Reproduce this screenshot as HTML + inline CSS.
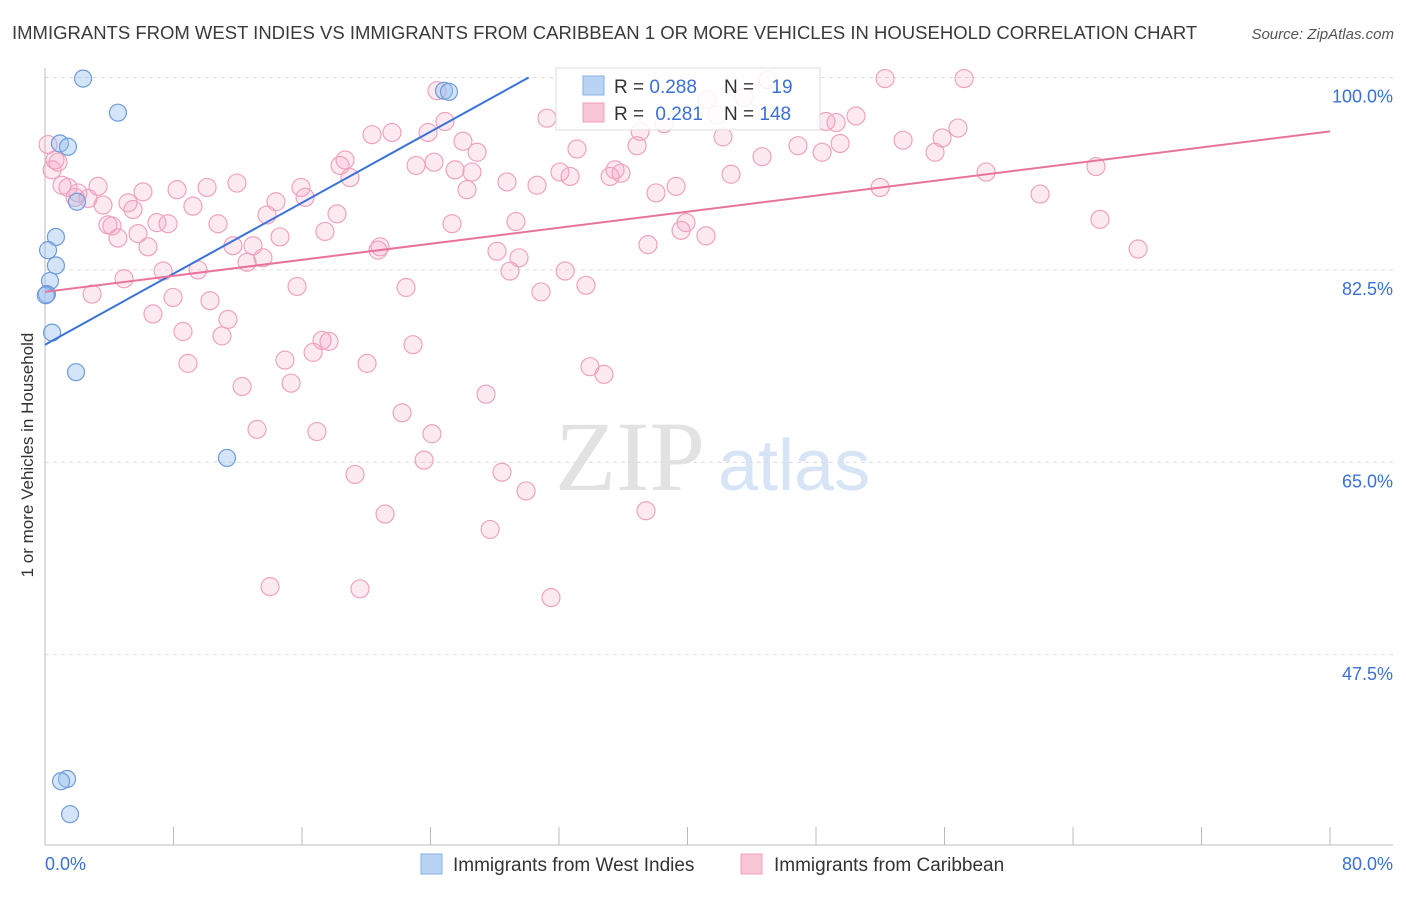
<!DOCTYPE html>
<html><head><meta charset="utf-8"><style>
body{margin:0;background:#fff;font-family:"Liberation Sans",sans-serif}
svg text{font-family:"Liberation Sans",sans-serif}
</style></head><body>
<svg id="chart" width="1406" height="892">
<text x="12" y="39" font-size="18.5" fill="#3a3a3a">IMMIGRANTS FROM WEST INDIES VS IMMIGRANTS FROM CARIBBEAN 1 OR MORE VEHICLES IN HOUSEHOLD CORRELATION CHART</text>
<text x="1394" y="39" font-size="15" fill="#555" text-anchor="end" font-style="italic">Source: ZipAtlas.com</text>
<g><text x="555" y="490" font-size="100" fill="#e2e2e2" font-family="Liberation Serif" style="font-family:'Liberation Serif',serif">ZIP</text><text x="718" y="490" font-size="72" fill="#d6e4f5">atlas</text></g>
<g id="grid"></g><g id="axes"></g>
<g id="pink"></g><g id="blue"></g><g id="lines"></g>
<text transform="translate(33,455) rotate(-90)" font-size="17" fill="#333" text-anchor="middle">1 or more Vehicles in Household</text>
<g>
<rect x="556" y="68" width="264" height="62" fill="rgba(255,255,255,0.85)" stroke="#ddd"/>
<rect x="583" y="76" width="21" height="19" fill="#b9d3f5" stroke="#8ab0e6"/>
<rect x="583" y="103" width="21" height="19" fill="#f9c6d5" stroke="#ef9fbb"/>
<text x="614" y="93" font-size="19" fill="#333">R = <tspan fill="#3b6fd6">0.288</tspan></text>
<text x="724" y="93" font-size="19" fill="#333">N = <tspan fill="#3b6fd6" dx="12">19</tspan></text>
<text x="614" y="120" font-size="19" fill="#333">R = <tspan fill="#3b6fd6" dx="6">0.281</tspan></text>
<text x="724" y="120" font-size="19" fill="#333">N = <tspan fill="#3b6fd6">148</tspan></text>
</g>
<g>
<rect x="421" y="854" width="21" height="20" fill="#b9d3f5" stroke="#8ab0e6"/>
<text x="453" y="871" font-size="19" fill="#333">Immigrants from West Indies</text>
<rect x="741" y="854" width="21" height="20" fill="#f9c6d5" stroke="#ef9fbb"/>
<text x="774" y="871" font-size="19" fill="#333">Immigrants from Caribbean</text>
</g>
</svg>
<script>
const blueX=[2.37,4.54,0.93,1.43,1.99,0.68,0.19,0.68,0.31,0.12,0.44,1.93,11.33,24.84,25.15,1.37,1.0,1.56,0.05];
const blueY=[99.9,96.8,94.0,93.7,88.7,85.5,84.3,82.9,81.5,80.3,76.8,73.2,65.4,98.8,98.7,36.2,36.0,33.0,80.2];
const pinkX=[0.19,0.62,0.44,0.81,1.06,1.43,1.87,2.05,2.68,3.3,3.61,3.92,4.17,4.54,4.92,5.17,5.48,5.79,6.1,6.41,6.72,6.97,7.35,7.66,7.97,8.22,8.59,8.9,9.21,9.53,10.09,10.27,10.77,11.02,11.39,11.7,11.95,12.27,12.58,12.95,13.2,13.57,13.82,14.01,14.38,14.63,14.94,15.32,15.69,15.94,16.19,16.69,16.93,17.25,17.43,17.68,18.18,18.37,18.68,18.99,19.3,19.61,20.05,20.36,20.73,20.86,21.17,21.6,22.23,22.48,22.91,23.1,23.6,23.85,24.09,24.22,24.9,25.34,25.53,26.02,26.27,26.58,26.9,27.46,27.71,28.14,28.45,28.76,28.95,29.32,29.51,29.95,30.63,30.88,31.25,31.5,32.06,32.38,32.69,33.12,33.68,33.93,34.8,35.18,35.49,35.86,37.05,36.86,37.42,37.54,38.04,38.54,39.29,39.6,39.91,41.15,41.84,42.21,42.71,43.52,44.64,45.01,46.88,48.38,48.62,49.25,49.5,50.49,51.99,52.3,53.42,55.41,55.85,56.84,57.22,58.59,61.95,65.43,65.68,68.05,2.93,24.41,41.22];
const pinkY=[93.9,92.5,91.6,92.3,90.2,90.0,89.1,89.5,89.0,90.1,88.4,86.6,86.5,85.4,81.7,88.6,88.0,85.8,89.6,84.6,78.5,86.8,82.4,86.7,80.0,89.8,76.9,74.0,88.3,82.5,90.0,79.7,86.7,76.5,78.0,84.7,90.4,71.9,83.2,84.7,68.0,83.6,87.5,53.7,88.7,85.5,74.3,72.2,81.0,90.0,89.1,75.0,67.8,76.1,86.0,76.0,87.6,92.0,92.5,90.9,63.9,53.5,74.0,94.8,84.3,84.6,60.3,95.0,69.5,80.9,75.7,92.0,65.2,95.0,67.6,92.3,96.0,86.7,91.6,94.2,89.8,91.4,93.2,71.2,58.9,84.2,64.1,90.5,82.4,86.9,83.6,62.4,90.2,80.5,96.3,52.7,91.4,82.4,91.0,93.5,81.1,73.7,73.0,91.0,91.6,91.3,95.1,93.8,60.6,84.8,89.5,95.8,90.1,86.1,86.8,85.6,96.6,94.6,91.2,98.2,92.8,99.8,93.8,93.2,96.0,95.9,94.0,96.5,90.0,99.9,94.3,93.2,94.5,95.4,99.9,91.4,89.4,91.9,87.1,84.4,80.3,98.8,98.0];
const yTicks=[100,82.5,65,47.5];
const yTickLabels=["100.0%","82.5%","65.0%","47.5%"];
const xTicks=[0,8,16,24,32,40,48,56,64,72,80];
const blueFit=[75.7,0.807];
const pinkFit=[80.5,0.1825];
const NS="http://www.w3.org/2000/svg";
const X0=45,X1=1330,Y0=30.2,Y1=100,PY0=845,PY1=77.5;
const sx=v=>X0+(v/80)*(X1-X0);
const sy=v=>PY0-(v-Y0)/(Y1-Y0)*(PY0-PY1);
function mk(tag,attrs,parent){const e=document.createElementNS(NS,tag);for(const k in attrs)e.setAttribute(k,attrs[k]);document.getElementById(parent).appendChild(e);return e;}
yTicks.forEach((t,i)=>{
 const g=mk('line',{x1:45,x2:1393,y1:sy(t),y2:sy(t),stroke:'#dcdcdc','stroke-dasharray':'4,4'},'grid');
 
 
 const l=mk('text',{x:1393,y:sy(t)+25,'font-size':18,fill:'#3b6fd6','text-anchor':'end'},'axes');
 l.textContent=yTickLabels[i];
 
 
});
const ya=mk('line',{x1:45,x2:45,y1:68,y2:845,stroke:'#bbb'},'axes');


const xa=mk('line',{x1:45,x2:1393,y1:845,y2:845,stroke:'#bbb'},'axes');


xTicks.forEach(t=>{const k=mk('line',{x1:sx(t),x2:sx(t),y1:827,y2:845,stroke:'#bbb'},'axes');
 
 });
const xl0=mk('text',{x:45,y:870,'font-size':18,fill:'#3b6fd6'},'axes');xl0.textContent='0.0%';


const xl1=mk('text',{x:1393,y:870,'font-size':18,fill:'#3b6fd6','text-anchor':'end'},'axes');xl1.textContent='80.0%';


pinkX.forEach((x,i)=>{const c=mk('circle',{cx:sx(x),cy:sy(pinkY[i]),r:9,fill:'rgba(244,160,190,0.22)',stroke:'#eea3bd','stroke-width':1.2},'pink');
 
 });
blueX.forEach((x,i)=>{const c=mk('circle',{cx:sx(x),cy:sy(blueY[i]),r:8.5,fill:'rgba(150,190,240,0.4)',stroke:'#6f9bd9','stroke-width':1.2},'blue');
 
 });
const bxEnd=(100-blueFit[0])/blueFit[1];
const bl=mk('line',{x1:sx(0),y1:sy(blueFit[0]),x2:sx(bxEnd),y2:sy(100),stroke:'#3a72d8','stroke-width':2},'lines');


const pl=mk('line',{x1:sx(0),y1:sy(pinkFit[0]),x2:sx(80),y2:sy(pinkFit[0]+pinkFit[1]*80),stroke:'#e8739c','stroke-width':2},'lines');


</script>
</body></html>
